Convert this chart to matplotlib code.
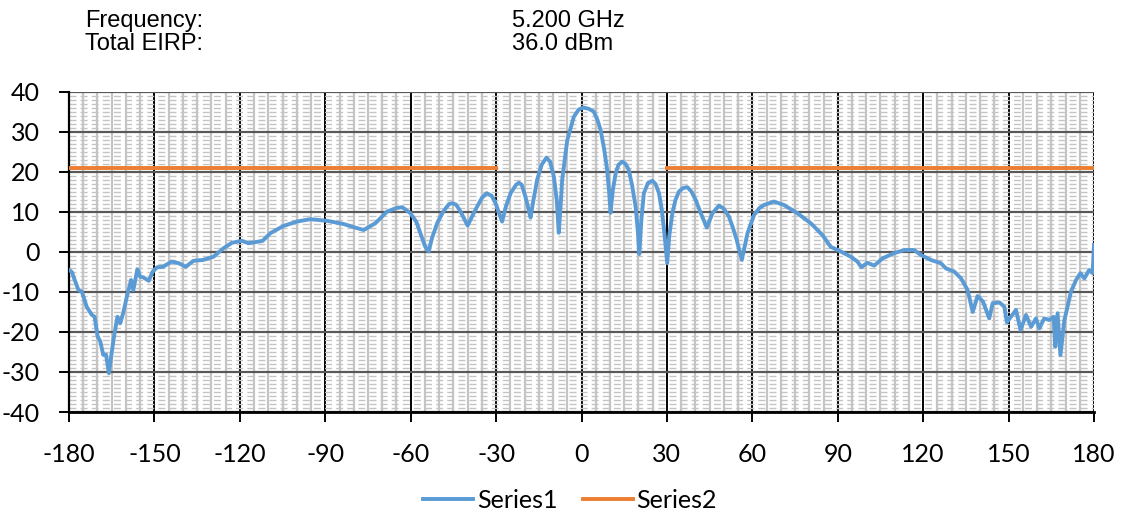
import matplotlib.pyplot as plt
import numpy as np
from matplotlib.ticker import MultipleLocator

plt.rcParams["axes.unicode_minus"] = False

# antenna pattern, angle in degrees vs EIRP in dBm
angle = [
    -180, -179, -178, -176.7, -175.5, -173.8, -172, -171, -170, -169, -168, -167,
    -166, -164.4, -163, -162, -161, -159.7, -158.2, -157.4, -156, -155, -154, -152,
    -150.6, -149, -147, -144, -141.5, -139, -136.3, -133, -129.3, -125.8, -122.8,
    -119.3, -117, -113.4, -112, -109.3, -104.7, -100, -95.3, -89.4, -83.6, -80,
    -76.5, -72.4, -68.3, -65, -63, -60.1, -58, -56.6, -55, -53.7, -52.5, -50.7,
    -48.5, -46.5, -45.3, -44, -42.5, -41, -40, -38.5, -36.7, -35, -33.3, -31.5,
    -30.2, -29, -27.9, -26.5, -24.9, -23, -22, -21, -19.7, -18.7, -17.9, -17,
    -15.6, -14, -12.3, -11, -9.7, -8.7, -8, -7.4, -6.8, -5, -3.5, -2.7, -1, 0.6,
    2.5, 4.3, 5.6, 6.7, 8, 9, 9.7, 10.2, 11, 12, 13, 14.3, 15.5, 16.6, 17.8, 19,
    19.8, 20.3, 21, 21.9, 23.3, 24.9, 26, 27.2, 28.2, 29, 30.1, 30.8, 31.9, 33,
    34.2, 35.7, 37.2, 38.7, 40.1, 42, 44, 46, 48.3, 50, 51.8, 53.2, 54.5, 56.3,
    58.3, 60.6, 62.5, 64.1, 67.6, 71.1, 75.8, 80.5, 84.6, 87.5, 91.1, 94.6, 96.9,
    98.3, 100.4, 102.8, 105.7, 109.8, 113.3, 116.8, 119.2, 122.7, 126.2, 128,
    130.9, 133.3, 135.6, 137.4, 139.1, 141, 143.2, 144.4, 146.8, 148.5, 149.4,
    150.8, 152.6, 154.2, 156.1, 157.9, 159.6, 160.8, 162.5, 164.3, 165.8, 166.4,
    167.2, 168.2, 169.6, 170.7, 171.9, 173.7, 175.2, 176.6, 178.3, 179.5, 180,
]
series1 = [
    -4.5, -5, -7, -9.5, -9.9, -13.7, -15.7, -16.2, -21, -22.4, -25.7, -25.7,
    -30.3, -22, -16.2, -17.8, -15.3, -11.2, -7, -9.5, -4.3, -6.2, -6.3, -7.2,
    -4.9, -3.8, -3.7, -2.4, -2.8, -3.7, -2.2, -2, -1.2, 0.9, 2.3,
    2.8, 2.2, 2.6, 2.8, 4.7, 6.5, 7.6, 8.2, 7.8, 7, 6.2,
    5.5, 7.2, 10.1, 11, 11.2, 9.7, 7.5, 4.7, 1.5, 0.1, 3.5, 7.2,
    10.2, 12, 12.2, 11.8, 10.1, 8, 6.6, 8.8, 11.3, 13.5, 14.7, 14,
    12.2, 9.8, 7.6, 11.5, 14.7, 16.8, 17.3, 16.8, 13.8, 11, 8.6, 12.5,
    18, 21.8, 23.6, 22.5, 18.8, 13, 4.8, 11, 18, 28, 31.8, 33.8, 35.6, 36.1,
    35.8, 35.1, 33, 30.5, 25.5, 20.5, 15, 9.8, 15.5, 19.7, 21.8, 22.6, 22, 20.5, 16.5, 11.3,
    5, -0.5, 8, 14.7, 17.2, 17.8, 17, 14.7, 10.5, 5.5, -2.8, 4, 9.7, 13,
    15.1, 16, 16.2, 15, 13, 9.5, 6.1, 9.7, 11.6, 10.8, 8.8, 6, 3, -2,
    4.7, 9.25, 11, 11.75, 12.6, 11.75, 9.7, 7.2, 4.25, 1.3, 0.1, -1.2, -2.4,
    -3.8, -2.7, -3.4, -1.6, -0.3, 0.5, 0.5, -0.75, -2, -2.8, -4.1,
    -4.9, -6.6, -9.5, -15, -11, -12.4, -16.6, -12.8, -12.6, -13.7, -17.6,
    -16.2, -14.5, -19.5, -15.75, -18.7, -16.6, -19.1, -16.6, -17, -16.2, -23.7,
    -15.3, -25.75, -17, -13.7, -9.9, -7, -5.3, -6.6, -4.5, -5.3, 1.75,
]

# limit line, not drawn between -30 and 30
limit_angle = [-180, -30, np.nan, 30, 180]
series2 = [21, 21, np.nan, 21, 21]

freq_text = "5.200 GHz"
eirp_text = "36.0 dBm"

fig = plt.figure(figsize=(11.26, 5.15), dpi=100)
ax = fig.add_axes([0.0613, 0.2, 0.9103, 0.6214])

ax.plot(angle, series1, color="#5b9bd5", linewidth=2.8, label="Series1", zorder=4)
ax.plot(limit_angle, series2, color="#ed7d31", linewidth=2.8, label="Series2", zorder=4)

ax.set_xlim(-180, 180)
ax.set_ylim(-40, 40)
ax.xaxis.set_major_locator(MultipleLocator(30))
ax.yaxis.set_major_locator(MultipleLocator(10))
ax.xaxis.set_minor_locator(MultipleLocator(5))
ax.yaxis.set_minor_locator(MultipleLocator(1))

# grid
ax.grid(which="minor", axis="x", color="#c4c4c4", linewidth=1.6)
ax.grid(which="minor", axis="y", color="#c4c4c4", linewidth=1.0, linestyle=(0, (5, 3)))
ax.grid(which="major", axis="y", color="#595959", linewidth=1.6)
ax.grid(which="major", axis="x", color="#000000", linewidth=1.4)
ax.set_axisbelow(True)

for s in ["top", "right"]:
    ax.spines[s].set_visible(False)
ax.spines["left"].set_linewidth(1.6)
ax.spines["bottom"].set_linewidth(2)

ax.tick_params(which="minor", length=0)
ax.tick_params(which="major", length=7, width=1.4, direction="out")
ax.tick_params(axis="x", pad=15)
ax.tick_params(axis="y", pad=14)
for lab in ax.get_xticklabels() + ax.get_yticklabels():
    lab.set_fontfamily("Lato")
    lab.set_fontsize(18)

# header text
hdr = dict(fontsize=17, family="Liberation Sans", va="center", ha="left")
fig.text(85 / 1126, 1 - 21 / 515, "Frequency:", **hdr)
fig.text(85 / 1126, 1 - 44 / 515, "Total EIRP:", **hdr)
fig.text(512 / 1126, 1 - 21 / 515, freq_text, **hdr)
fig.text(512 / 1126, 1 - 44 / 515, eirp_text, **hdr)

fig.legend(
    loc="center",
    bbox_to_anchor=(570 / 1126, 1 - 500 / 515),
    ncol=2,
    frameon=False,
    prop={"family": "Lato", "size": 18},
    handlelength=2.0,
    handletextpad=0.15,
    columnspacing=1.0,
)

fig.savefig("out.png", dpi=100)
